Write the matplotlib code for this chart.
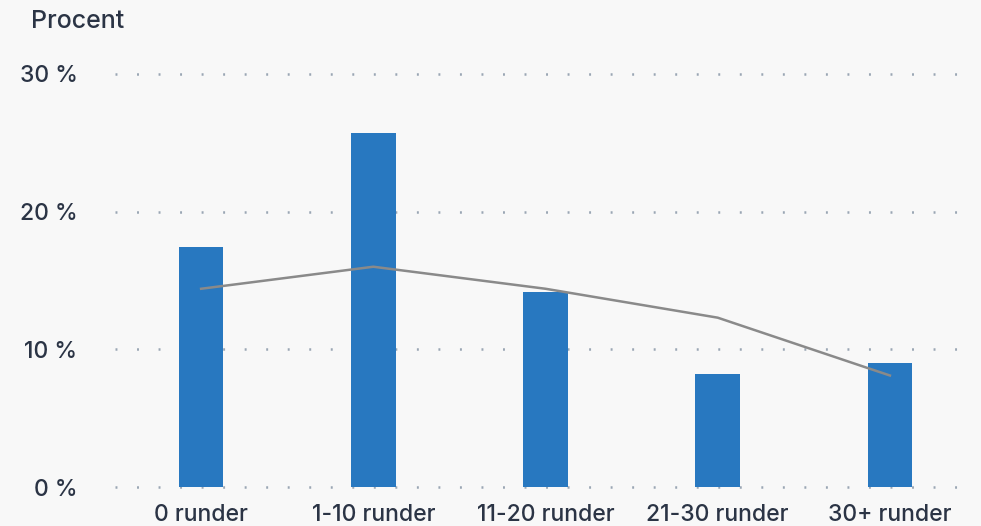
import matplotlib
matplotlib.use("Agg")
import matplotlib.pyplot as plt

categories = ["0 runder", "1-10 runder", "11-20 runder", "21-30 runder", "30+ runder"]
bar_values = [17.4, 25.7, 14.2, 8.2, 9.0]
line_values = [14.4, 16.0, 14.4, 12.3, 8.1]
y_ticks = [0, 10, 20, 30]
y_tick_labels = ["0 %", "10 %", "20 %", "30 %"]

plt.rcParams['font.family'] = ['Inter', 'DejaVu Sans']
plt.rcParams['lines.scale_dashes'] = False

bg = "#f8f8f8"
text_color = "#2b3445"

fig = plt.figure(figsize=(9.81, 5.26), dpi=100, facecolor=bg)
ax = fig.add_axes([115/981, (526-487)/526, (976-115)/981, (487-74)/526], facecolor=bg)

x = list(range(len(categories)))
for yv in y_ticks:
    ax.axhline(yv, color="#9aa6b4", linewidth=1.8, dashes=(1.4, 14.1), zorder=0, clip_on=False)

ax.bar(x, bar_values, width=0.26, color="#2878c0", zorder=2)
ax.plot(x, line_values, color="#8a8a8a", linewidth=1.8, zorder=3)

ax.set_xlim(-0.5, 4.5)
ax.set_ylim(0, 30)
ax.set_yticks(y_ticks)
ax.set_yticklabels(y_tick_labels)
ax.set_xticks(x)
ax.set_xticklabels(categories)
ax.tick_params(axis='both', length=0, labelsize=16.5, labelcolor=text_color)
ax.tick_params(axis='y', pad=27)
ax.tick_params(axis='x', pad=12)
for lbl in ax.get_xticklabels() + ax.get_yticklabels():
    lbl.set_fontweight('medium')
for s in ax.spines.values():
    s.set_visible(False)

fig.text(31/981, 1 - 21/526, "Procent", fontsize=18, fontweight='medium',
         color=text_color, ha='left', va='center')

fig.savefig("out.png", dpi=100, facecolor=bg)
